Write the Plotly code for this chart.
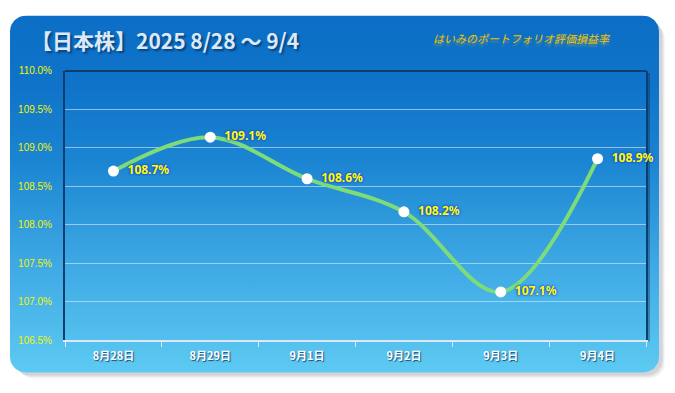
import numpy as np
import plotly.graph_objects as go

# ---- data ----
categories = ["8月28日", "8月29日", "9月1日", "9月2日", "9月3日", "9月4日"]
values = [108.70, 109.14, 108.60, 108.17, 107.13, 108.86]
y_ticks = [106.5, 107.0, 107.5, 108.0, 108.5, 109.0, 109.5, 110.0]
title_text = "【日本株】2025 8/28 ～ 9/4"
subtitle_text = "はいみのポートフォリオ評価損益率"

W, H = 675, 393
JP = "Noto Sans CJK JP"


def rounded_rect(x0, y0, x1, y1, r, n=12):
    """Rounded rectangle outline in pixel coords (y down) -> plot coords (y up)."""
    pts = []
    corners = [
        (x1 - r, y0 + r, -90, 0),
        (x1 - r, y1 - r, 0, 90),
        (x0 + r, y1 - r, 90, 180),
        (x0 + r, y0 + r, 180, 270),
    ]
    for cx, cy, a0, a1 in corners:
        for a in np.linspace(np.radians(a0), np.radians(a1), n):
            pts.append((cx + r * np.cos(a), cy + r * np.sin(a)))
    pts.append(pts[0])
    xs = [p[0] for p in pts]
    ys = [H - p[1] for p in pts]
    return xs, ys


fig = go.Figure()

# soft drop shadow of the panel
for off, op in [(8, 0.06), (6, 0.08), (4, 0.10)]:
    sx, sy = rounded_rect(10 + off, 10 + off, 660 + off * 0.6, 378 + off * 0.8, 16)
    fig.add_trace(go.Scatter(x=sx, y=sy, mode="lines", fill="toself",
                             fillcolor=f"rgba(60,70,90,{op})", line=dict(width=0),
                             hoverinfo="skip", showlegend=False, xaxis="x", yaxis="y"))

# gradient panel
px, py = rounded_rect(10, 10, 659, 378, 16)
fig.add_trace(go.Scatter(
    x=px, y=py, mode="lines", fill="toself", line=dict(width=0),
    fillgradient=dict(type="vertical",
                      colorscale=[[0, "#5dcaf2"], [0.3, "#3ea9e4"], [0.6, "#1b84d2"],
                                  [0.8, "#0f74c9"], [1, "#0c6ec6"]]),
    hoverinfo="skip", showlegend=False, xaxis="x", yaxis="y"))

# shadow of plot-area frame (right side)
fig.add_trace(go.Scatter(x=[648.5, 648.5], y=[H - 346, H - 69], mode="lines",
                         line=dict(color="rgba(5,35,75,0.35)", width=3),
                         hoverinfo="skip", showlegend=False, xaxis="x", yaxis="y"))

# main series
fig.add_trace(go.Scatter(
    x=categories, y=values, xaxis="x2", yaxis="y2",
    mode="lines+markers+text",
    line=dict(color="#7ddc78", width=4, shape="spline", smoothing=1.0),
    marker=dict(color="white", size=11, line=dict(width=0)),
    text=[f"  {v:.1f}%" for v in values],
    textposition="middle right",
    textfont=dict(family="Noto Sans", size=12, color="#ffff00", weight="bold",
                  shadow="0px 0px 2px #1a40d8, 0px 0px 3px #1a40d8"),
    hoverinfo="skip", showlegend=False, cliponaxis=False))

x0d, x1d = 65 / W, 646 / W
y0d, y1d = (H - 345) / H, (H - 67) / H

border = "#0b3d6e"

fig.update_layout(
    width=W, height=H,
    margin=dict(l=0, r=0, t=0, b=0),
    paper_bgcolor="white",
    plot_bgcolor="rgba(0,0,0,0)",
    xaxis=dict(domain=[0, 1], range=[0, W], visible=False, fixedrange=True),
    yaxis=dict(domain=[0, 1], range=[0, H], visible=False, fixedrange=True),
    xaxis2=dict(
        domain=[x0d, x1d], anchor="y2", type="category",
        range=[-0.5, 5.5], tickson="boundaries",
        ticks="outside", ticklen=5, tickcolor="#dfe8f2", tickwidth=1,
        showline=True, linecolor="#dfe8f2", linewidth=2,
        showgrid=False, fixedrange=True,
        tickfont=dict(family=JP, size=11, color="white", weight="bold",
                      shadow="1px 1px 1px rgba(0,30,80,0.7)"),
        ticklabelstandoff=4,
    ),
    yaxis2=dict(
        domain=[y0d, y1d], anchor="x2",
        range=[106.5, 110.0], tickvals=y_ticks,
        ticktext=[f"{v:.1f}%" for v in y_ticks],
        showgrid=True, gridcolor="rgba(220,235,250,0.6)", gridwidth=1,
        zeroline=False, showline=True, linecolor=border, linewidth=2, mirror=True,
        ticks="", fixedrange=True, layer="below traces",
        tickfont=dict(family="Liberation Sans", size=10, color="#f0f500"),
        ticklabelstandoff=9,
    ),
    shapes=[
        dict(type="line", xref="x2 domain", yref="y2 domain", layer="above",
             x0=0, x1=1, y0=1, y1=1, line=dict(color=border, width=2)),
    ],
    annotations=[
        dict(text=title_text, xref="paper", yref="paper",
             x=29 / W, y=1 - 35 / H, xanchor="left", yanchor="middle", showarrow=False,
             font=dict(family=JP, size=21, color="#dce8f5", weight="bold",
                       shadow="2px 2px 2px rgba(0,30,70,0.55)")),
        dict(text=subtitle_text, xref="paper", yref="paper",
             x=522 / W, y=1 - 33 / H, xanchor="center", yanchor="middle", showarrow=False,
             font=dict(family=JP, size=11, color="#f2c200", style="italic",
                       shadow="0px 3px 2px rgba(240,200,0,0.35)")),
    ],
)

fig.write_html("out.html", config={"displayModeBar": False, "staticPlot": True},
               post_script="document.body.style.margin='0';document.body.style.padding='0';")
